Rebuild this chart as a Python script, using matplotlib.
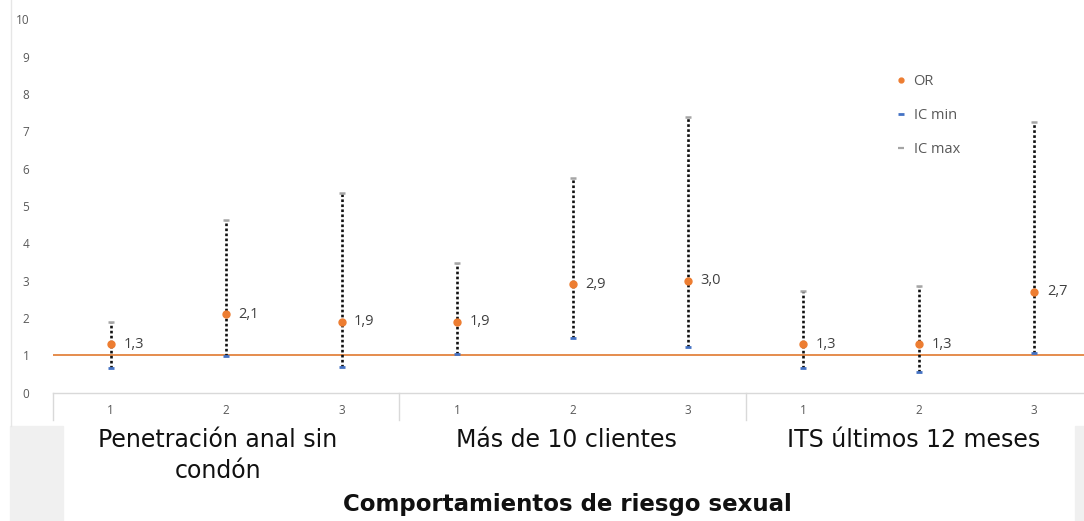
import matplotlib
matplotlib.use("Agg")
import matplotlib.pyplot as plt
from matplotlib.lines import Line2D
from matplotlib.patches import Rectangle

# ---- data ----
groups = ["Penetración anal sin\ncondón", "Más de 10 clientes", "ITS últimos 12 meses"]
sub_labels = ["1", "2", "3", "1", "2", "3", "1", "2", "3"]
or_values = [1.3, 2.1, 1.9, 1.9, 2.9, 3.0, 1.3, 1.3, 2.7]
or_labels = ["1,3", "2,1", "1,9", "1,9", "2,9", "3,0", "1,3", "1,3", "2,7"]
ic_min = [0.65, 0.98, 0.69, 1.03, 1.46, 1.21, 0.65, 0.55, 1.06]
ic_max = [1.89, 4.62, 5.35, 3.47, 5.74, 7.39, 2.72, 2.86, 7.24]
y_ticks = list(range(0, 11))
x_title = "Comportamientos de riesgo sexual"

W, H = 1084, 521
fig = plt.figure(figsize=(W / 100, H / 100), dpi=100)
fig.patch.set_facecolor("white")

def fx(px):
    return px / W

def fy(py):
    return 1 - py / H

# gray patches at bottom corners
fig.patches.append(Rectangle((fx(10), fy(521)), fx(53), fy(426) - fy(521),
                             transform=fig.transFigure, color="#f0f0f0", zorder=0))
fig.patches.append(Rectangle((fx(1075), fy(521)), fx(20), fy(426) - fy(521),
                             transform=fig.transFigure, color="#f0f0f0", zorder=0))
# chart border line at left
fig.add_artist(Line2D([fx(11), fx(11)], [fy(0), fy(426)], transform=fig.transFigure,
                      color="#e6e6e6", lw=1))

left_px, right_px = 53, 1084
top_px, bot_px = 19.5, 392.5
ax = fig.add_axes([fx(left_px), fy(bot_px), fx(right_px - left_px), fy(top_px) - fy(bot_px)])
n = len(or_values)
step = (1092 - 53) / 9.0
x = list(range(1, n + 1))
ax.set_xlim(0.5, 0.5 + (right_px - left_px) / step)
ax.set_ylim(0, 10)
ax.patch.set_alpha(0)

for s in ["top", "right", "left"]:
    ax.spines[s].set_visible(False)
ax.spines["bottom"].set_color("#d9d9d9")
ax.spines["bottom"].set_linewidth(1)

ax.set_yticks(y_ticks)
ax.set_yticklabels([str(t) for t in y_ticks], fontsize=8.5, color="#595959", family="Open Sans")
ax.tick_params(axis="y", length=0, pad=17)
ax.set_xticks(x)
ax.set_xticklabels(sub_labels, fontsize=8.5, color="#595959", family="Open Sans")
ax.tick_params(axis="x", length=0, pad=8)

# reference line at 1
ax.axhline(1, color="#E3833F", lw=1.3, zorder=1)

# dotted CI lines
ax.vlines(x, ic_min, ic_max, colors="#111111", linewidth=1.9,
          linestyles=[(0, (1.0, 0.9))], zorder=2, capstyle="butt")

# markers
ax.plot(x, ic_min, linestyle="none", marker="_", markersize=5, mew=2,
        color="#4472C4", zorder=3)
ax.plot(x, ic_max, linestyle="none", marker="_", markersize=5, mew=1.8,
        color="#A5A5A5", zorder=3)
ax.plot(x, or_values, linestyle="none", marker="o", markersize=5,
        color="#ED7D31", zorder=4)

for xi, v, lab in zip(x, or_values, or_labels):
    ax.annotate(lab, (xi, v), xytext=(9, 0), textcoords="offset points",
                va="center", ha="left", fontsize=10.5, color="#404040", family="Open Sans")

# category table separators
ext = -(420 - bot_px) / ((bot_px - top_px) / 10)
for sx in [0.5, 3.5, 6.5]:
    ax.plot([sx, sx], [0, ext], color="#d9d9d9", lw=1, clip_on=False)

# group labels
group_centers = [218, 566, 914]
for cxp, g in zip(group_centers, groups):
    fig.text(fx(cxp), fy(428), g, ha="center", va="top", fontsize=17,
             color="#111111", family="DejaVu Sans", linespacing=1.38)

fig.text(fx(567), fy(505), x_title, ha="center", va="center", fontsize=16.5,
         fontweight="bold", color="#111111", family="DejaVu Sans")

# legend
handles = [
    Line2D([], [], linestyle="none", marker="o", markersize=3.5, color="#ED7D31"),
    Line2D([], [], linestyle="none", marker="_", markersize=5, mew=2, color="#4472C4"),
    Line2D([], [], linestyle="none", marker="_", markersize=5, mew=1.6, color="#A5A5A5"),
]
leg = fig.legend(handles, ["OR", "IC min", "IC max"], loc="upper left",
                 bbox_to_anchor=(fx(888), fy(67)), frameon=False,
                 handlelength=0.8, handletextpad=0.45, labelspacing=1.3, borderpad=0,
                 prop={"family": "Open Sans", "size": 10.5})
for t in leg.get_texts():
    t.set_color("#595959")

fig.savefig("out.png", dpi=100)
